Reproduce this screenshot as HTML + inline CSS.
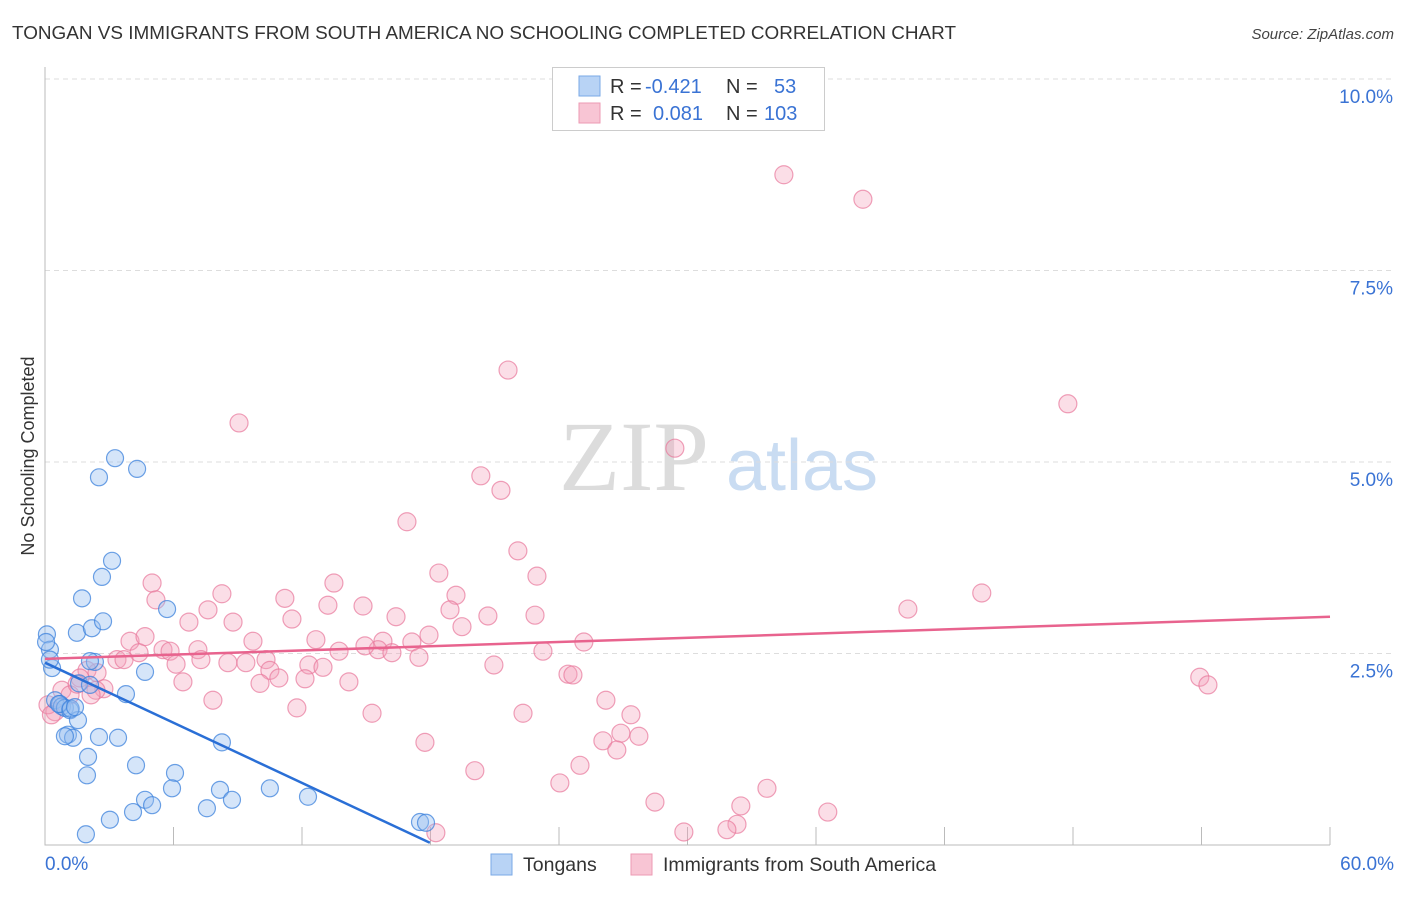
<!DOCTYPE html>
<html><head><meta charset="utf-8"><style>
body{margin:0;background:#fff;font-family:"Liberation Sans",sans-serif;}
</style></head><body>
<svg id="chart" width="1406" height="892" viewBox="0 0 1406 892" xmlns="http://www.w3.org/2000/svg" font-family="Liberation Sans, sans-serif">
<text x="12" y="39" font-size="18" fill="#333" textLength="944" lengthAdjust="spacingAndGlyphs">TONGAN VS IMMIGRANTS FROM SOUTH AMERICA NO SCHOOLING COMPLETED CORRELATION CHART</text>
<text x="1394" y="39" font-size="15" fill="#444" text-anchor="end" font-style="italic">Source: ZipAtlas.com</text>
<text transform="translate(34,456) rotate(-90)" font-size="18" fill="#333" text-anchor="middle">No Schooling Completed</text>
<g>
<text x="634" y="490" font-size="100" fill="#dcdcdc" text-anchor="middle" style="font-family:'Liberation Serif',serif">ZIP</text>
<text x="802" y="490" font-size="72" fill="#c9dcf2" text-anchor="middle">atlas</text>
</g>
<g id="grid"></g>
<g id="axes"></g>
<g id="pts"></g>
<g id="trend"></g>
<g>
<rect x="552.5" y="67.5" width="272" height="63" fill="#fff" stroke="#ccc"/>
<rect x="579" y="76" width="21" height="20" fill="#b8d3f5" stroke="#7aa8e6"/>
<rect x="579" y="103" width="21" height="20" fill="#f8c5d4" stroke="#ec9ab3"/>
<text x="610" y="93" font-size="20" fill="#333">R =</text>
<text x="645" y="93" font-size="20" fill="#3a73d4">-0.421</text>
<text x="726" y="93" font-size="20" fill="#333">N =</text>
<text x="774" y="93" font-size="20" fill="#3a73d4">53</text>
<text x="610" y="120" font-size="20" fill="#333">R =</text>
<text x="653" y="120" font-size="20" fill="#3a73d4">0.081</text>
<text x="726" y="120" font-size="20" fill="#333">N =</text>
<text x="764" y="120" font-size="20" fill="#3a73d4">103</text>
</g>
<g>
<rect x="491" y="854" width="21" height="21" fill="#b8d3f5" stroke="#7aa8e6"/>
<text x="523" y="871" font-size="19.5" fill="#333">Tongans</text>
<rect x="631" y="854" width="21" height="21" fill="#f8c5d4" stroke="#ec9ab3"/>
<text x="663" y="871" font-size="19.5" fill="#333">Immigrants from South America</text>
</g>
</svg>
<script>
const yTicks=[2.5,5.0,7.5,10.0];
const yTickLabels=["2.5%","5.0%","7.5%","10.0%"];
const xTickLabels=["0.0%","60.0%"];
const tonganX=[0.09,0.23,0.33,0.23,0.47,0.70,0.79,0.93,1.17,1.54,1.07,1.31,0.93,2.01,1.96,1.91,3.03,2.52,3.41,4.25,4.67,6.07,5.93,4.67,5.00,4.11,7.56,8.17,8.73,10.50,12.28,17.51,17.79,8.26,3.78,5.70,1.73,1.49,2.19,2.71,2.33,2.10,2.66,3.13,2.52,3.27,4.30,1.59,0.65,2.10,0.05,1.20,1.40];
const tonganY=[2.75,2.55,2.31,2.42,1.89,1.84,1.81,1.79,1.76,1.63,1.44,1.40,1.42,1.15,0.91,0.14,0.33,1.41,1.40,1.04,2.26,0.94,0.74,0.59,0.52,0.43,0.48,0.72,0.59,0.74,0.63,0.30,0.29,1.34,1.97,3.08,3.22,2.77,2.83,2.92,2.39,2.40,3.50,3.71,4.80,5.05,4.91,2.11,1.84,2.09,2.65,1.78,1.80];
const samX=[34.50,38.19,21.62,9.06,47.76,29.41,20.35,21.29,16.90,22.08,5.00,13.49,22.97,18.39,5.18,8.26,11.20,19.19,13.21,14.85,7.61,11.53,16.39,18.91,20.68,22.88,40.29,43.74,6.72,8.78,19.47,17.93,3.97,4.67,9.71,12.65,15.78,17.13,25.16,5.51,5.84,7.14,13.73,15.55,16.20,14.94,4.39,3.36,3.69,6.12,7.28,8.54,9.38,10.32,12.32,12.98,17.46,23.25,20.96,10.50,1.96,2.43,1.63,6.44,10.04,10.92,12.14,14.19,24.42,24.65,53.92,54.30,2.75,2.38,2.15,7.84,11.76,15.27,22.32,26.19,27.36,26.89,27.73,26.05,26.70,17.74,24.98,20.07,24.04,33.71,28.48,32.49,36.55,32.31,29.83,31.84,18.25,0.79,0.47,1.17,0.14,0.30,1.50];
const samY=[8.75,8.43,6.20,5.51,5.76,5.18,4.82,4.63,4.22,3.84,3.42,3.42,3.51,3.55,3.20,3.28,3.22,3.26,3.13,3.12,3.07,2.95,2.98,3.07,2.99,3.00,3.08,3.29,2.91,2.91,2.85,2.74,2.66,2.72,2.66,2.68,2.66,2.65,2.65,2.55,2.53,2.55,2.53,2.55,2.51,2.60,2.51,2.42,2.42,2.36,2.42,2.38,2.38,2.42,2.35,2.32,2.45,2.53,2.35,2.28,2.28,2.25,2.18,2.13,2.11,2.18,2.17,2.13,2.23,2.22,2.19,2.09,2.04,2.02,1.96,1.89,1.79,1.72,1.72,1.89,1.70,1.46,1.42,1.36,1.24,1.34,1.04,0.97,0.81,0.74,0.56,0.51,0.43,0.27,0.17,0.20,0.16,2.02,1.74,1.96,1.83,1.70,2.10];
const tonganTrendX=[0,17.97];
const tonganTrendY=[2.38,0.03];
const samTrendX=[0,60];
const samTrendY=[2.43,2.98];

const NS="http://www.w3.org/2000/svg";
const X0=45,X1=1330,Y0=845,Y10=79;
function xs(v){return X0+(v/60)*(X1-X0);}
function ys(v){return Y0-(v/10)*(Y0-Y10);}
function mk(tag,attrs,parent){const e=document.createElementNS(NS,tag);for(const k in attrs)e.setAttribute(k,attrs[k]);parent.appendChild(e);return e;}
const grid=document.getElementById('grid'),axes=document.getElementById('axes'),pts=document.getElementById('pts'),trend=document.getElementById('trend');
yTicks.forEach((t,i)=>{
  const l=mk('line',{x1:X0,x2:1395,y1:ys(t),y2:ys(t),stroke:'#ddd','stroke-dasharray':'5,4'},grid);
  
  
  const tx=mk('text',{x:1393,y:ys(t)+24,'font-size':19,fill:'#3a73d4','text-anchor':'end'},axes);
  tx.textContent=yTickLabels[i];
  
  
});
const ax=mk('path',{d:`M${X0} 67V${Y0}H${X1}`,stroke:'#bbb',fill:'none'},axes);


for(let k=1;k<=10;k++){
  const x=X0+k*(X1-X0)/10;
  const t=mk('line',{x1:x,x2:x,y1:827,y2:Y0,stroke:'#bbb'},axes);
  
  
}
const xl0=mk('text',{x:45,y:870,'font-size':19,fill:'#3a73d4'},axes);xl0.textContent=xTickLabels[0];


const xl1=mk('text',{x:1394,y:870,'font-size':19,fill:'#3a73d4','text-anchor':'end'},axes);xl1.textContent=xTickLabels[1];


samX.forEach((v,i)=>{
  const c=mk('circle',{cx:xs(v),cy:ys(samY[i]),r:9,fill:'rgba(244,160,185,0.35)',stroke:'rgba(232,120,155,0.7)','stroke-width':1.2},pts);
  
  
});
tonganX.forEach((v,i)=>{
  const c=mk('circle',{cx:xs(v),cy:ys(tonganY[i]),r:8.5,fill:'rgba(150,190,240,0.4)',stroke:'rgba(60,130,220,0.75)','stroke-width':1.2},pts);
  
  
});
const pl=mk('line',{x1:xs(samTrendX[0]),y1:ys(samTrendY[0]),x2:xs(samTrendX[1]),y2:ys(samTrendY[1]),stroke:'#e8638e','stroke-width':2.5},trend);


const bl=mk('line',{x1:xs(tonganTrendX[0]),y1:ys(tonganTrendY[0]),x2:xs(tonganTrendX[1]),y2:ys(tonganTrendY[1]),stroke:'#2a6fd6','stroke-width':2.5},trend);


</script>
</body></html>
